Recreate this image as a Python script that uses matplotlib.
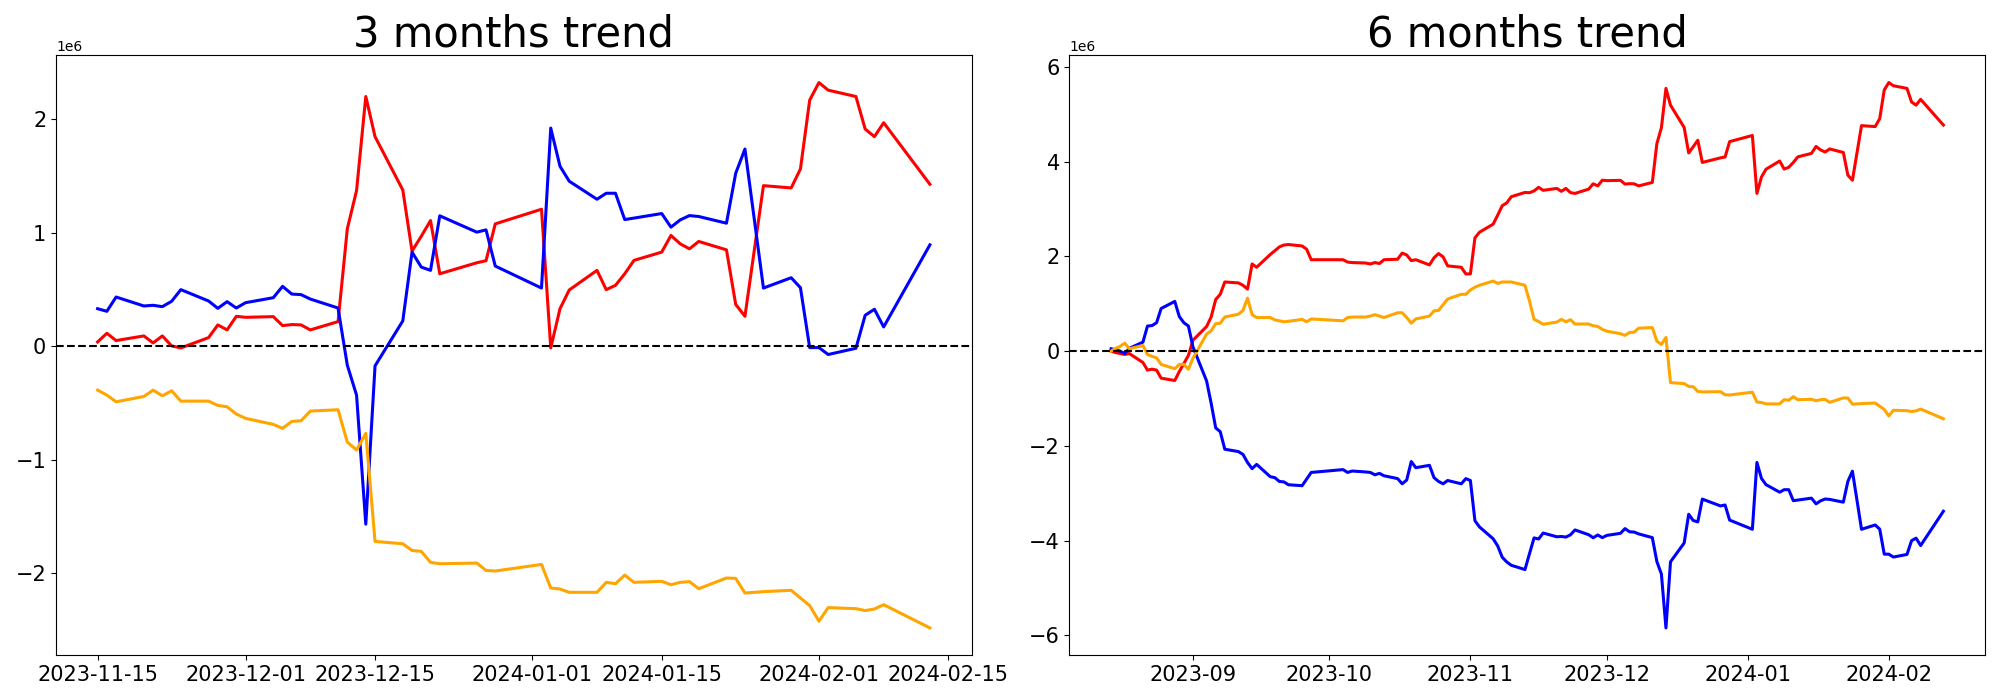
import matplotlib.pyplot as plt
import numpy as np
import pandas as pd

# 3 months window (cumulative from 2023-11-15)
dates_3m = ["2023-11-15", "2023-11-16", "2023-11-17", "2023-11-20", "2023-11-21", "2023-11-22",
            "2023-11-23", "2023-11-24", "2023-11-27", "2023-11-28", "2023-11-29", "2023-11-30",
            "2023-12-01", "2023-12-04", "2023-12-05", "2023-12-06", "2023-12-07", "2023-12-08",
            "2023-12-11", "2023-12-12", "2023-12-13", "2023-12-14", "2023-12-15", "2023-12-18",
            "2023-12-19", "2023-12-20", "2023-12-21", "2023-12-22", "2023-12-26", "2023-12-27",
            "2023-12-28", "2024-01-02", "2024-01-03", "2024-01-04", "2024-01-05", "2024-01-08",
            "2024-01-09", "2024-01-10", "2024-01-11", "2024-01-12", "2024-01-15", "2024-01-16",
            "2024-01-17", "2024-01-18", "2024-01-19", "2024-01-22", "2024-01-23", "2024-01-24",
            "2024-01-26", "2024-01-29", "2024-01-30", "2024-01-31", "2024-02-01", "2024-02-02",
            "2024-02-05", "2024-02-06", "2024-02-07", "2024-02-08", "2024-02-13"]

red_3m = [0.038, 0.114, 0.050, 0.091, 0.029, 0.091, 0.003, -0.015, 0.076, 0.188, 0.144, 0.264,
          0.255, 0.261, 0.182, 0.191, 0.188, 0.144, 0.217, 1.035, 1.372, 2.202, 1.848, 1.378,
          0.839, 0.970, 1.108, 0.639, 0.736, 0.754, 1.079,
          1.208, -0.015, 0.331, 0.496, 0.669, 0.499, 0.537, 0.639, 0.757, 0.830, 0.977, 0.903,
          0.859, 0.924, 0.850, 0.369, 0.264, 1.416, 1.396, 1.563, 2.170,
          2.325, 2.258, 2.202, 1.915, 1.848, 1.971, 1.428]

blue_3m = [0.331, 0.308, 0.434, 0.355, 0.361, 0.349, 0.396, 0.499, 0.399, 0.334, 0.393, 0.337,
           0.384, 0.428, 0.528, 0.460, 0.455, 0.416, 0.337, -0.167, -0.431, -1.569, -0.173, 0.223,
           0.830, 0.698, 0.669, 1.150, 1.006, 1.026, 0.707,
           0.513, 1.924, 1.587, 1.455, 1.296, 1.349, 1.349, 1.117, 1.130, 1.170, 1.050, 1.114,
           1.152, 1.144, 1.085, 1.525, 1.739, 0.513, 0.604, 0.516, -0.012,
           -0.012, -0.073, -0.018, 0.273, 0.326, 0.170, 0.894]

orange_3m = [-0.387, -0.431, -0.490, -0.443, -0.387, -0.437, -0.393, -0.484, -0.484, -0.522, -0.534, -0.598,
             -0.636, -0.689, -0.724, -0.663, -0.657, -0.572, -0.560, -0.845, -0.915, -0.768, -1.721, -1.742,
             -1.801, -1.809, -1.906, -1.918, -1.912, -1.977, -1.982,
             -1.924, -2.132, -2.141, -2.170, -2.170, -2.082, -2.094, -2.018, -2.082, -2.073, -2.103, -2.082,
             -2.076, -2.138, -2.044, -2.047, -2.176, -2.164, -2.152, -2.220, -2.287,
             -2.425, -2.305, -2.314, -2.331, -2.317, -2.279, -2.484]

# 6 months window (cumulative from 2023-08-14)
dates_6m = ["2023-08-14", "2023-08-15", "2023-08-16", "2023-08-17", "2023-08-18", "2023-08-21",
            "2023-08-22", "2023-08-23", "2023-08-24", "2023-08-25", "2023-08-28", "2023-08-29",
            "2023-08-30", "2023-08-31", "2023-09-01", "2023-09-04", "2023-09-05", "2023-09-06",
            "2023-09-07", "2023-09-08", "2023-09-11", "2023-09-12", "2023-09-13", "2023-09-14",
            "2023-09-15", "2023-09-18", "2023-09-19", "2023-09-20", "2023-09-21", "2023-09-22",
            "2023-09-25", "2023-09-26", "2023-09-27", "2023-10-04", "2023-10-05", "2023-10-06",
            "2023-10-09", "2023-10-10", "2023-10-11", "2023-10-12", "2023-10-13", "2023-10-16",
            "2023-10-17", "2023-10-18", "2023-10-19", "2023-10-20", "2023-10-23", "2023-10-24",
            "2023-10-25", "2023-10-26", "2023-10-27", "2023-10-30", "2023-10-31", "2023-11-01",
            "2023-11-02", "2023-11-03", "2023-11-06", "2023-11-07", "2023-11-08", "2023-11-09",
            "2023-11-10", "2023-11-13", "2023-11-14"] + dates_3m

red_6m = [0.0, -0.03, -0.05, -0.07, -0.05, -0.24, -0.40, -0.38, -0.40, -0.57, -0.62, -0.43, -0.26, -0.09,
          0.23, 0.52, 0.72, 1.09, 1.20, 1.46, 1.44, 1.39, 1.31, 1.84, 1.77, 2.04, 2.12, 2.20, 2.24, 2.25,
          2.22, 2.15, 1.93,
          1.93, 1.88, 1.87, 1.86, 1.84, 1.87, 1.85, 1.93, 1.94, 2.07, 2.03, 1.91, 1.93, 1.82, 1.97,
          2.06, 1.99, 1.80, 1.77, 1.63,
          1.63, 2.39, 2.51, 2.68, 2.87, 3.07, 3.13, 3.26, 3.35, 3.344,
          3.382, 3.458, 3.394, 3.435, 3.373, 3.435, 3.347, 3.329, 3.420, 3.532, 3.488, 3.608,
          3.599, 3.605, 3.526, 3.535, 3.532, 3.488, 3.561, 4.379, 4.716, 5.546, 5.192, 4.722,
          4.183, 4.314, 4.452, 3.983, 4.080, 4.098, 4.423,
          4.552, 3.329, 3.675, 3.840, 4.013, 3.843, 3.881, 3.983, 4.101, 4.174, 4.321, 4.247,
          4.203, 4.268, 4.194, 3.713, 3.608, 4.760, 4.740, 4.907, 5.514,
          5.669, 5.602, 5.546, 5.259, 5.192, 5.315, 4.772]

blue_6m = [0.05, 0.03, 0.0, -0.05, 0.06, 0.19, 0.53, 0.54, 0.60, 0.90, 1.05, 0.73, 0.60, 0.53,
           0.09, -0.63, -1.10, -1.62, -1.70, -2.07, -2.12, -2.18, -2.35, -2.48, -2.39, -2.65, -2.67,
           -2.75, -2.76, -2.82, -2.84, -2.70, -2.56,
           -2.50, -2.56, -2.53, -2.55, -2.56, -2.61, -2.58, -2.63, -2.69, -2.80, -2.72, -2.33, -2.46,
           -2.41, -2.67, -2.75, -2.80, -2.73, -2.80, -2.69,
           -2.73, -3.58, -3.71, -3.96, -4.11, -4.35, -4.45, -4.52, -4.61, -4.273,
           -3.942, -3.965, -3.839, -3.918, -3.912, -3.924, -3.877, -3.774, -3.874, -3.939, -3.880, -3.936,
           -3.889, -3.845, -3.745, -3.813, -3.818, -3.857, -3.936, -4.440, -4.704, -5.842, -4.446, -4.050,
           -3.443, -3.575, -3.604, -3.123, -3.267, -3.247, -3.566,
           -3.760, -2.349, -2.686, -2.818, -2.977, -2.924, -2.924, -3.156, -3.143, -3.103, -3.223, -3.159,
           -3.121, -3.129, -3.188, -2.748, -2.534, -3.760, -3.669, -3.757, -4.285,
           -4.285, -4.346, -4.291, -4.000, -3.947, -4.103, -3.379]

orange_6m = [0.0, 0.06, 0.10, 0.17, 0.05, 0.12, -0.07, -0.11, -0.14, -0.28, -0.37, -0.28, -0.28, -0.38,
             -0.15, 0.36, 0.43, 0.58, 0.59, 0.72, 0.78, 0.86, 1.12, 0.77, 0.71, 0.71, 0.66, 0.64, 0.62,
             0.63, 0.67, 0.62, 0.68,
             0.64, 0.71, 0.72, 0.72, 0.74, 0.77, 0.74, 0.71, 0.81, 0.81, 0.71, 0.59, 0.68, 0.74, 0.85,
             0.86, 0.98, 1.10, 1.20, 1.20,
             1.29, 1.35, 1.39, 1.48, 1.43, 1.46, 1.46, 1.46, 1.39, 1.057,
             0.670, 0.626, 0.567, 0.614, 0.670, 0.620, 0.664, 0.573, 0.573, 0.535, 0.523, 0.459,
             0.421, 0.368, 0.333, 0.394, 0.400, 0.485, 0.497, 0.212, 0.142, 0.289, -0.664, -0.685,
             -0.744, -0.752, -0.849, -0.861, -0.855, -0.920, -0.925,
             -0.867, -1.075, -1.084, -1.113, -1.113, -1.025, -1.037, -0.961, -1.025, -1.016, -1.046, -1.025,
             -1.019, -1.081, -0.987, -0.990, -1.119, -1.107, -1.095, -1.163, -1.230,
             -1.368, -1.248, -1.257, -1.274, -1.260, -1.222, -1.427]

titles = ["3 months trend", "6 months trend"]

fig, axes = plt.subplots(1, 2, figsize=(20, 7), dpi=100)
fig.subplots_adjust(left=0.028, right=0.9925, bottom=0.064, top=0.921, wspace=0.107)

panels = [(dates_3m, red_3m, blue_3m, orange_3m), (dates_6m, red_6m, blue_6m, orange_6m)]
for ax, (d, r, b, o), t in zip(axes, panels, titles):
    x = pd.to_datetime(d)
    ax.plot(x, np.array(r) * 1e6, color="red", lw=2.2)
    ax.plot(x, np.array(b) * 1e6, color="blue", lw=2.2)
    ax.plot(x, np.array(o) * 1e6, color="orange", lw=2.2)
    ax.axhline(0, color="black", linestyle="--", lw=1.5)
    ax.set_title(t, fontsize=30)
    ax.tick_params(labelsize=15)

fig.savefig("out.png")
